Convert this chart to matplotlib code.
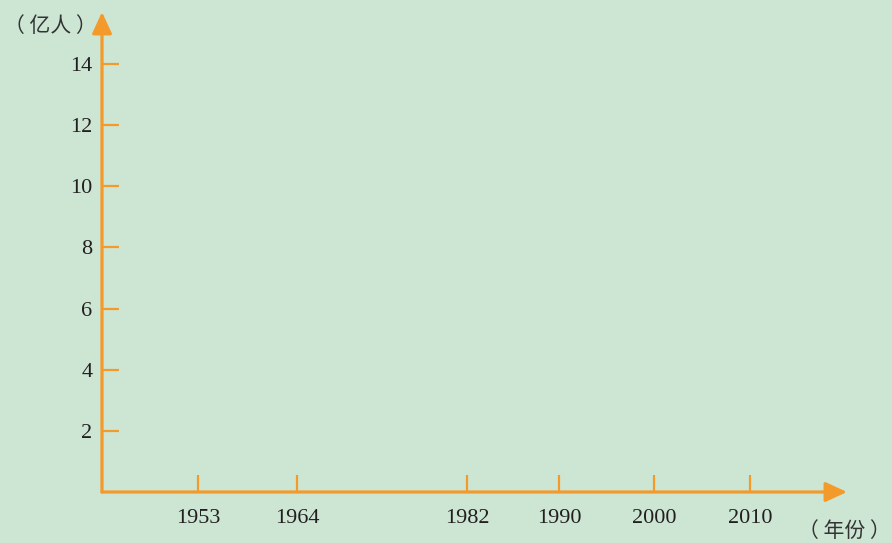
import matplotlib
matplotlib.use("Agg")
import matplotlib.pyplot as plt

# population axis (100 million people) and census years
y_ticks = [2, 4, 6, 8, 10, 12, 14]
years = ['1953', '1964', '1982', '1990', '2000', '2010']
# horizontal placement of the year ticks along the axis (layout, px from origin)
year_pos = [96, 195, 365, 457, 552, 648]

bg = '#cde6d4'
orange = '#f39a2b'
txt = '#231f20'

W, H = 892, 543
fig = plt.figure(figsize=(W / 100, H / 100), dpi=100, facecolor=bg)
x0, y0 = 102, 492      # origin in pixels
x1, y1 = 847, 12       # arrow tips
ax = fig.add_axes([x0 / W, (H - y0) / H, (x1 - x0) / W, (y0 - y1) / H])
ax.set_facecolor(bg)
ax.patch.set_alpha(0)

px_per_unit = (y0 - 64) / 14.0
ax.set_ylim(0, (y0 - y1) / px_per_unit)
ax.set_xlim(0, x1 - x0)

for s in ax.spines.values():
    s.set_visible(False)

arrow = dict(arrowstyle='-|>,head_length=0.65,head_width=0.3', color=orange,
             lw=2.3, shrinkA=0, shrinkB=0, mutation_scale=20)
ax.annotate('', xy=(1, 0), xytext=(0, 0), xycoords='axes fraction', arrowprops=arrow)
ax.annotate('', xy=(0, 1), xytext=(0, 0), xycoords='axes fraction', arrowprops=arrow)

ax.set_yticks(y_ticks)
ax.set_yticklabels([str(v) for v in y_ticks])
ax.set_xticks(year_pos)
ax.set_xticklabels(years)
ax.tick_params(direction='in', length=12, width=1.6, color=orange, labelcolor=txt,
               labelsize=16)
ax.tick_params(axis='y', pad=7)
ax.tick_params(axis='x', pad=12)
for lab in ax.get_xticklabels() + ax.get_yticklabels():
    lab.set_family('Liberation Serif')

cjk = ['Noto Sans CJK SC', 'DejaVu Sans']
fig.text(4 / W, 1 - 26 / H, '（ 亿人 ）', family=cjk, fontsize=15, color='#333333',
         ha='left', va='center')
fig.text(891 / W, 1 - 531 / H, '（ 年份 ）', family=cjk, fontsize=15, color='#333333',
         ha='right', va='center')

fig.savefig('out.png', dpi=100, facecolor=bg)
